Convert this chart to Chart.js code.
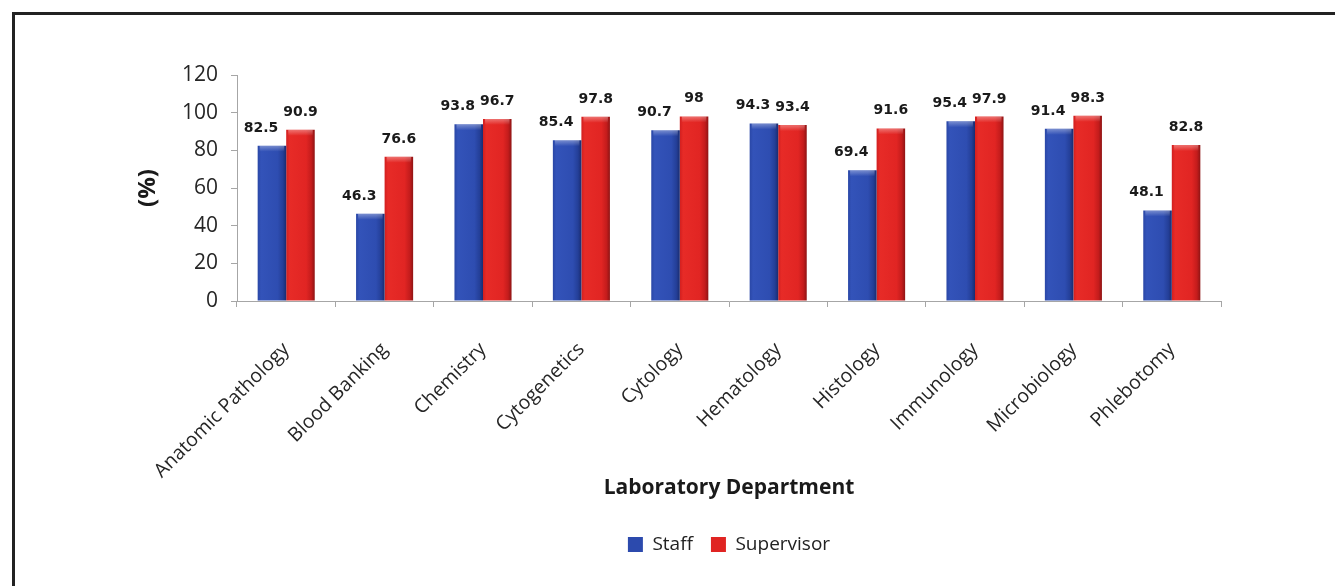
<!DOCTYPE html>
<html>
<head>
<meta charset="utf-8">
<script src="https://cdn.jsdelivr.net/npm/chart.js@4.4.1/dist/chart.umd.min.js"></script>
<style>
    html, body { margin: 0; padding: 0; background: #fff; }
    #wrap { position: relative; width: 1335px; height: 586px; overflow: hidden; background: #fff; }
    #frame { position: absolute; left: 12px; top: 12px; right: -10px; bottom: -10px; border-top: 3px solid #222; border-left: 3px solid #222; }
    canvas { position: absolute; left: 0; top: 0; }
</style>
</head>
<body>
<div id="wrap">
    <div id="frame"></div>
    <canvas id="chart" width="1335" height="586"></canvas>
</div>
<script>
const categories = ['Anatomic Pathology', 'Blood Banking', 'Chemistry', 'Cytogenetics', 'Cytology',
    'Hematology', 'Histology', 'Immunology', 'Microbiology', 'Phlebotomy'];
const staffValues = [82.5, 46.3, 93.8, 85.4, 90.7, 94.3, 69.4, 95.4, 91.4, 48.1];
const supervisorValues = [90.9, 76.6, 96.7, 97.8, 98, 93.4, 91.6, 97.9, 98.3, 82.8];
const seriesNames = ['Staff', 'Supervisor'];
const yMin = 0;
const yMax = 120;
const yStep = 20;

// horizontal shading for the bars, one set of stops per series
const barStops = [
    [[0, '#2a47a6'], [0.12, '#3353b9'], [0.7, '#2e4db1'], [0.88, '#243f98'], [1, '#1a2c70']],
    [[0, '#d21f1f'], [0.12, '#e72b27'], [0.7, '#e12523'], [0.88, '#c41c1c'], [1, '#8e1414']]
];
// Excel nudged the staff labels to the left
const labelShift = [-11, 0];

const barShade = {
    id: 'barShade',
    beforeDatasetsDraw(chart) {
        const c = chart.ctx;
        chart.data.datasets.forEach((ds, i) => {
            const meta = chart.getDatasetMeta(i);
            meta.data.forEach(el => {
                const l = el.x - el.width / 2;
                const r = el.x + el.width / 2;
                const g = c.createLinearGradient(l, 0, r, 0);
                barStops[i].forEach(s => g.addColorStop(s[0], s[1]));
                el.options = Object.assign({}, el.options, { backgroundColor: g });
            });
        });
    },
    afterDatasetsDraw(chart) {
        const c = chart.ctx;
        c.save();
        chart.data.datasets.forEach((ds, i) => {
            chart.getDatasetMeta(i).data.forEach(el => {
                const l = el.x - el.width / 2;
                const g = c.createLinearGradient(0, el.y, 0, el.y + 6);
                g.addColorStop(0, 'rgba(255,255,255,0.35)');
                g.addColorStop(1, 'rgba(255,255,255,0)');
                c.fillStyle = g;
                c.fillRect(l + 2, el.y, el.width - 4, 6);
            });
        });
        c.restore();
    }
};

const barLabels = {
    id: 'barLabels',
    afterDatasetsDraw(chart) {
        const c = chart.ctx;
        c.save();
        c.font = 'bold 14px "DejaVu Sans", sans-serif';
        c.fillStyle = '#1a1a1a';
        c.textAlign = 'center';
        c.textBaseline = 'alphabetic';
        chart.data.datasets.forEach((ds, i) => {
            chart.getDatasetMeta(i).data.forEach((el, j) => {
                c.fillText(String(ds.data[j]), el.x + labelShift[i], el.y - 14);
            });
        });
        c.restore();
    }
};

Chart.defaults.font.family = '"Open Sans", sans-serif';

const ctx = document.getElementById('chart').getContext('2d');
new Chart(ctx, {
    type: 'bar',
    data: {
        labels: categories,
        datasets: [{
            label: seriesNames[0],
            data: staffValues,
            backgroundColor: '#2c4aad',
            categoryPercentage: 0.58,
            barPercentage: 1
        }, {
            label: seriesNames[1],
            data: supervisorValues,
            backgroundColor: '#e02422',
            categoryPercentage: 0.58,
            barPercentage: 1
        }]
    },
    options: {
        responsive: false,
        animation: false,
        layout: { padding: { left: 16, right: 114, top: 75, bottom: 22 } },
        plugins: {
            legend: {
                position: 'bottom',
                fullSize: false,
                labels: {
                    boxWidth: 15,
                    boxHeight: 15,
                    padding: 18,
                    color: '#222',
                    font: { size: 19 }
                }
            },
            tooltip: { enabled: false }
        },
        scales: {
            x: {
                grid: { offset: true, drawOnChartArea: false, drawTicks: true, tickLength: 6, color: '#a6a6a6' },
                border: { color: '#a6a6a6', width: 1 },
                ticks: { minRotation: 45, maxRotation: 45, autoSkip: false, padding: 31, color: '#262626', font: { size: 19.5 } },
                title: {
                    display: true,
                    text: 'Laboratory Department',
                    color: '#1a1a1a',
                    font: { size: 21, weight: 'bold' },
                    padding: { top: 0, bottom: 16 }
                },
                afterFit: s => { s.height = 216; }
            },
            y: {
                min: yMin,
                max: yMax,
                ticks: { stepSize: yStep, padding: 13, color: '#262626', font: { size: 21 } },
                grid: { drawOnChartArea: false, tickLength: 6, color: '#a6a6a6' },
                border: { color: '#a6a6a6', width: 1 },
                title: {
                    display: true,
                    text: '(%)',
                    color: '#1a1a1a',
                    font: { size: 24, weight: 'bold' },
                    padding: { top: 118, bottom: 0 }
                },
                afterFit: s => { s.width = 221; }
            }
        }
    },
    plugins: [barShade, barLabels]
});
</script>
</body>
</html>
